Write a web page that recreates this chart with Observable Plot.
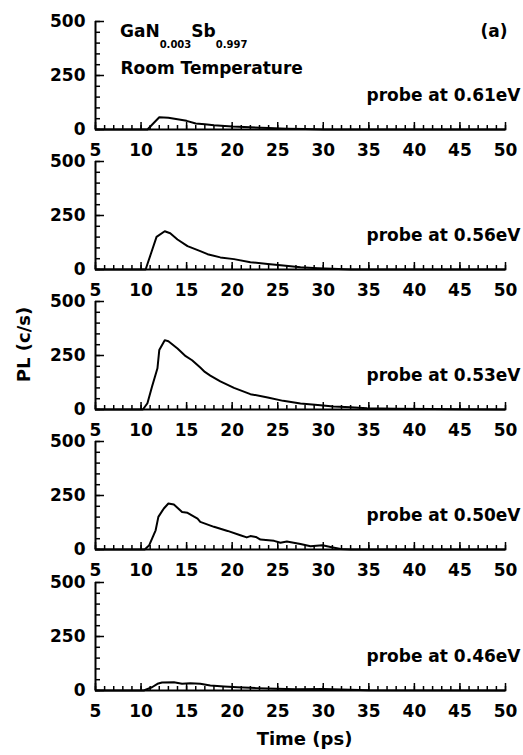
<!DOCTYPE html>
<html><head><meta charset="utf-8">
<script src="https://cdn.jsdelivr.net/npm/d3@7"></script>
<script src="https://cdn.jsdelivr.net/npm/@observablehq/plot@0.6"></script>
<style>
body{margin:0;background:#fff}
#chart{position:relative;width:523px;height:755px;background:#fff;overflow:hidden}
#chart svg{position:absolute;left:0}
</style></head><body><div id="chart"></div>
<script>
// ---- data ----
const probes = ["probe at 0.61eV", "probe at 0.56eV", "probe at 0.53eV", "probe at 0.50eV", "probe at 0.46eV"];
const t061 = [5, 10.7, 12.0, 13.0, 14.0, 15.0, 16.0, 17.0, 18.0, 20.0, 22.0, 24.0, 26.0, 28.0, 30.0, 50];
const v061 = [0, 0, 57, 54, 47, 40, 28, 24, 20, 14, 10, 7, 4, 2, 0, 0];
const t056 = [5, 10.5, 11.2, 11.7, 12.6, 13.2, 14.0, 15.1, 16.5, 17.3, 18.7, 20.2, 22.0, 23.9, 25.6, 27.5, 29.4, 31.0, 33.0, 50];
const v056 = [0, 0, 88, 151, 177, 168, 139, 108, 85, 71, 56, 48, 34, 25, 18, 10, 6, 3, 0, 0];
const t053 = [5, 10.2, 10.7, 11.2, 11.8, 12.0, 12.6, 13.0, 14.0, 14.9, 15.6, 16.5, 17.0, 17.6, 18.7, 20.2, 22.0, 23.9, 25.6, 27.5, 29.4, 31.1, 33.0, 34.8, 38, 42, 45, 50];
const v053 = [0, 0, 29, 105, 191, 275, 321, 316, 282, 247, 228, 194, 174, 157, 130, 100, 71, 56, 40, 28, 21, 14, 10, 6, 4, 2, 1, 0];
const t050 = [5, 10.4, 10.9, 11.6, 11.9, 12.5, 13.0, 13.6, 14.5, 15.1, 16.2, 16.5, 18.0, 19.5, 20.9, 21.6, 22.0, 22.6, 23.1, 24.6, 25.3, 26.0, 27.5, 28.6, 29.9, 30.8, 31.9, 33.0, 50];
const v050 = [0, 0, 20, 89, 151, 190, 213, 208, 174, 170, 143, 128, 105, 86, 66, 56, 62, 58, 46, 40, 31, 37, 25, 15, 20, 12, 2, 0, 0];
const t046 = [5, 10.3, 11.2, 11.8, 12.3, 13.6, 14.5, 15.4, 16.5, 17.6, 19.1, 20.6, 22.7, 24.9, 27.0, 30.0, 33.0, 35.0, 50];
const v046 = [0, 0, 15, 31, 37, 38, 31, 34, 31, 23, 19, 15, 11, 8, 6, 7, 3, 1, 0];
const xTickLabels = [5, 10, 15, 20, 25, 30, 35, 40, 45, 50];
const xMinorTicks = d3.range(5, 51, 1);
const yTickLabels = [0, 250, 500];
const yMinorTicks = d3.range(0, 501, 50);

const times = [t061, t056, t053, t050, t046];
const values = [v061, v056, v053, v050, v046];

// ---- layout ----
const FONT = '"DejaVu Sans", sans-serif';
const tops = [1, 141, 281, 421, 562];
const chart = document.getElementById("chart");
const ML = 95, MR = 18, MT = 20, W = 523;
const frameW = W - ML - MR;
const frameH = 108;

function panel(i) {
  const last = i === 4;
  const h = last ? 195 : 160;
  const data = times[i].map((t, j) => ({t, v: values[i][j]}));
  const extra = [];
  if (i === 0) {
    extra.push(Plot.text(["Room Temperature"], {text: d => d, frameAnchor: "top-left", textAnchor: "start", lineAnchor: "middle", dx: 25, dy: 47, fontSize: 17, fontWeight: "bold"}));
    extra.push(Plot.text(["(a)"], {text: d => d, frameAnchor: "top-right", textAnchor: "end", lineAnchor: "middle", dx: 2, dy: 10, fontSize: 17, fontWeight: "bold"}));
  }
  if (i === 2) {
    extra.push(Plot.text(["PL (c/s)"], {text: d => d, frameAnchor: "left", textAnchor: "middle", lineAnchor: "middle", rotate: -90, dx: -71, dy: -11, fontSize: 18, fontWeight: "bold"}));
  }
  if (last) {
    extra.push(Plot.text(["Time (ps)"], {text: d => d, frameAnchor: "bottom", textAnchor: "middle", lineAnchor: "middle", dx: 4, dy: 49, fontSize: 18, fontWeight: "bold"}));
  }
  const svg = Plot.plot({
    width: W, height: h,
    marginLeft: ML, marginRight: MR, marginTop: MT, marginBottom: h - MT - frameH,
    style: {background: "none", overflow: "visible", fontFamily: FONT, fontWeight: "bold", fontSize: "17px", color: "#000"},
    x: {domain: [5, 50]},
    y: {domain: [0, 500]},
    marks: [
      Plot.line(data, {x: "t", y: "v", stroke: "#000", strokeWidth: 2}),
      // inward minor/major ticks on the x axis
      Plot.tickX(xMinorTicks, {x: d => d, insetTop: frameH - 4, stroke: "#000", strokeWidth: 1.5}),
      Plot.tickX(xTickLabels, {x: d => d, insetTop: frameH - 7, stroke: "#000", strokeWidth: 1.5}),
      Plot.axisX({ticks: xTickLabels, tickSize: 0, tickPadding: 14, label: null, fontSize: 17, fontWeight: "bold"}),
      // inward minor/major ticks on the y axis
      Plot.tickY(yMinorTicks, {y: d => d, insetRight: frameW - 5, stroke: "#000", strokeWidth: 1.5}),
      Plot.tickY(yTickLabels, {y: d => d, insetRight: frameW - 9, stroke: "#000", strokeWidth: 1.5}),
      Plot.axisY({ticks: yTickLabels, tickSize: 0, tickPadding: 10, label: null, fontSize: 17, fontWeight: "bold"}),
      Plot.ruleY([0], {strokeWidth: 2}),
      Plot.ruleX([5], {strokeWidth: 2}),
      Plot.text([probes[i]], {text: d => d, frameAnchor: "bottom-right", textAnchor: "end", lineAnchor: "middle", dx: 15, dy: -34, fontSize: 17, fontWeight: "bold"}),
      ...extra
    ]
  });
  svg.style.top = tops[i] + "px";
  if (i === 0) {
    const g = d3.select(svg).append("text")
      .attr("x", 120).attr("y", 36)
      .attr("text-anchor", "start")
      .attr("font-size", 17).attr("font-weight", "bold").attr("fill", "#000")
      .attr("font-family", FONT);
    g.append("tspan").text("GaN");
    g.append("tspan").attr("font-size", 10).attr("dy", 11).text("0.003");
    g.append("tspan").attr("dy", -11).text("Sb");
    g.append("tspan").attr("font-size", 10).attr("dy", 11).text("0.997");
  }
  return svg;
}

for (let i = 0; i < 5; i++) chart.appendChild(panel(i));
</script>
</body></html>
